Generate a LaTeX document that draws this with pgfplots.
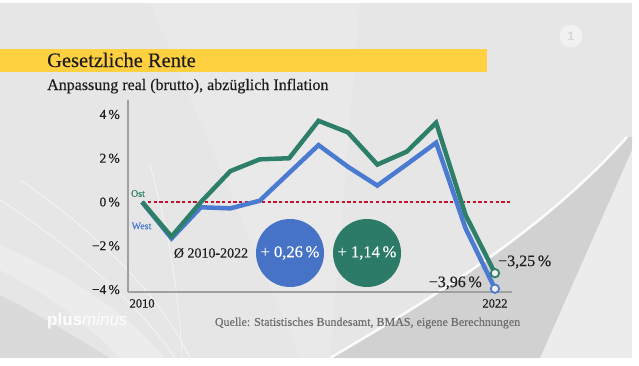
\documentclass[border=0pt]{standalone}
\usepackage{pgfplots}
\pgfplotsset{compat=1.18}
\usepackage{fontspec}
\setmainfont{Liberation Serif}[FakeBold=0.35]
\newfontfamily\logofont{Liberation Sans}
\definecolor{ostc}{HTML}{2E7F69}
\definecolor{westc}{HTML}{4A7BD0}
\definecolor{ostcirc}{HTML}{2C7A68}
\definecolor{westcirc}{HTML}{4673C6}
\definecolor{yel}{HTML}{FFD040}
\definecolor{bgg}{HTML}{E6E6E6}
\definecolor{axgray}{HTML}{A0A0A0}
\definecolor{redd}{HTML}{C4122F}
\definecolor{srcgray}{HTML}{6E6E6E}
\definecolor{txt}{HTML}{1E1E1E}
\begin{document}
\begin{tikzpicture}[x=1pt,y=1pt]
% background
\fill[white] (0,0) rectangle (639,365);
\fill[bgg] (0,7) rectangle (632,362);
\begin{scope}
\clip (0,7) rectangle (632,362);
% light streaks lower left
\fill[black,opacity=0.05] (0,7) -- (0,70) .. controls (40,50) and (80,25) .. (110,7) -- cycle;
\draw[white,opacity=0.6,line width=0.8pt] (0,165) .. controls (70,120) and (140,60) .. (175,7);
\draw[white,opacity=0.6,line width=0.8pt] (20,185) .. controls (100,130) and (160,70) .. (190,7);
\draw[white,opacity=0.5,line width=0.8pt] (150,200) .. controls (170,130) and (180,60) .. (182,7);
\fill[white,opacity=0.25] (0,120) .. controls (70,90) and (130,50) .. (165,7) -- (120,7) .. controls (90,40) and (40,75) .. (0,95) -- cycle;
% dark band lower right
\fill[black,opacity=0.09] (330,7) .. controls (420,60) and (540,130) .. (627,228) -- (632,228) -- (632,215) -- (540,7) -- cycle;
\draw[white,line width=2.5pt,opacity=0.9] (330,7) .. controls (420,60) and (540,130) .. (627,228);
\fill[white,opacity=0.25] (540,7) -- (632,215) -- (632,7) -- cycle;
% light upper area
\fill[white,opacity=0.12] (150,362) -- (360,362) -- (330,7) -- (300,7) -- cycle;
\end{scope}
% ARD logo faint
\fill[white,opacity=0.45] (571,329) circle (11.5);
\node[text=bgg!85!black,opacity=0.6,font=\logofont\bfseries\fontsize{12}{12}\selectfont] at (571,329) {1};
% title band
\fill[yel] (0,293) rectangle (487,316);
\node[anchor=base west,inner sep=0pt,text=txt,font=\fontsize{20.5}{22}\selectfont] at (47,298) {Gesetzliche Rente};
\node[anchor=base west,inner sep=0pt,text=txt,font=\fontsize{16}{18}\selectfont] at (47,275) {Anpassung real (brutto), abzüglich Inflation};
\begin{axis}[
 at={(128pt,73pt)}, anchor=south west,
 scale only axis, width=384pt, height=192pt,
 xmin=2009.52, xmax=2022.58, ymin=-4.11, ymax=4.66,
 axis x line=bottom, axis y line=left,
 axis line style={-, draw=axgray, line width=1.6pt},
 xtick={2010,2022}, xticklabels={2010,2022},
 ytick={-4,-2,0,2,4}, yticklabels={−4\,\%,−2\,\%,0\,\%,2\,\%,4\,\%},
 major tick length=0pt,
 x tick label style={font=\fontsize{12.5}{12.5}\selectfont, text=txt, anchor=north, inner sep=0pt, yshift=-7pt},
 y tick label style={font=\fontsize{13.5}{13.5}\selectfont, text=txt, anchor=east, inner sep=0pt, xshift=-8pt},
 clip=false,
]
\addplot[redd, line width=2.2pt, dash pattern=on 3.3pt off 2.4pt] coordinates {(2010,0) (2022.6,0)};
\addplot[westc, line width=4.5pt, line join=miter, miter limit=3] coordinates {
(2010,0)(2011,-1.66)(2012,-0.24)(2013,-0.29)(2014,0.06)(2015,1.33)(2016,2.6)(2017,1.61)(2018,0.75)(2019,1.72)(2020,2.71)(2021,-1.2)(2022,-3.96)};
\addplot[ostc, line width=4.5pt, line join=miter, miter limit=3] coordinates {
(2010,0)(2011,-1.58)(2012,0.0)(2013,1.41)(2014,1.95)(2015,2.0)(2016,3.71)(2017,3.18)(2018,1.71)(2019,2.3)(2020,3.62)(2021,-0.59)(2022,-3.25)};
\addplot[only marks, mark=*, mark size=4.2pt, mark options={fill=bgg!60!white, draw=westc, line width=1.8pt}] coordinates {(2022,-3.96)};
\addplot[only marks, mark=*, mark size=4.2pt, mark options={fill=bgg!60!white, draw=ostc, line width=1.8pt}] coordinates {(2022,-3.25)};
\end{axis}
% labels
\node[text=ostc,font=\fontsize{10}{10}\selectfont] at (138,171.5) {Ost};
\node[text=westc,font=\fontsize{10}{10}\selectfont] at (141.5,139) {West};
\node[text=txt,font=\fontsize{14}{14}\selectfont] at (211,112) {Ø 2010-2022};
\fill[westcirc] (290,112) circle (34);
\fill[ostcirc] (367,112) circle (34);
\node[text=white,font=\fontsize{16.5}{16.5}\selectfont] at (290,112) {+ 0,26\,\%};
\node[text=white,font=\fontsize{16.5}{16.5}\selectfont] at (367,112) {+ 1,14\,\%};
\node[anchor=west,inner sep=0pt,text=txt,font=\fontsize{16}{16}\selectfont] at (498,103) {−3,25\,\%};
\node[anchor=east,inner sep=0pt,text=txt,font=\fontsize{16}{16}\selectfont] at (482,82) {−3,96\,\%};
\node[text=srcgray,font=\fontsize{12}{12}\selectfont] at (367.5,42) {Quelle: Statistisches Bundesamt, BMAS, eigene Berechnungen};
\node[anchor=west,inner sep=0pt,text=white,opacity=0.9,font=\logofont\fontsize{17}{17}\selectfont] at (47,44) {\textbf{plus}\textit{minus}};
\end{tikzpicture}
\end{document}
